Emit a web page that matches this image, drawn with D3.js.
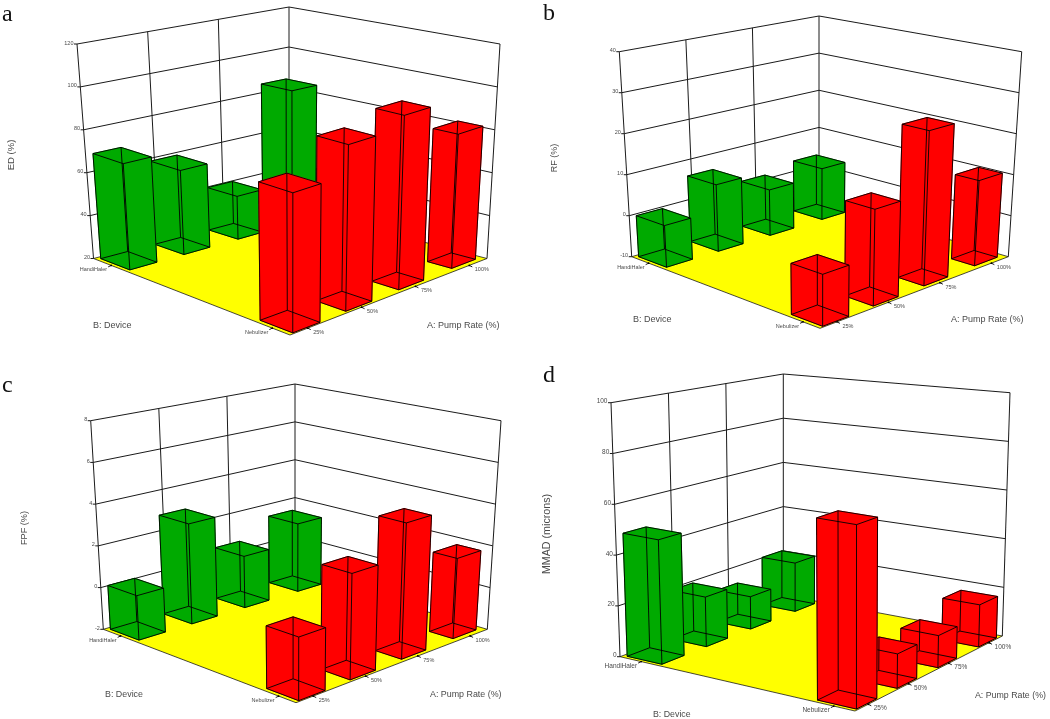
<!DOCTYPE html>
<html>
<head>
<meta charset="utf-8">
<script src="https://cdnjs.cloudflare.com/ajax/libs/d3/7.8.5/d3.min.js"></script>
<style>
html,body{margin:0;padding:0;background:#fff;}
svg{display:block;}
text{font-family:"Liberation Sans",Arial,sans-serif;fill:#4a4a4a;}
.letter{font-family:"Liberation Serif",serif;fill:#111;font-size:24px;}
</style>
</head>
<body>
<svg id="c" width="1050" height="719"></svg>
<script>
// ---------- data ----------
const pumpLevels = ["25%", "50%", "75%", "100%"];
const deviceLevels = ["HandiHaler", "Nebulizer"];

const edTicks = [20, 40, 60, 80, 100, 120];
const edHandi = [69, 59.5, 40.5, 85];
const edNeb = [81, 94, 99, 82];

const rfTicks = [-10, 0, 10, 20, 30, 40];
const rfHandi = [0, 6.4, 1.5, 3.2];
const rfNeb = [1.5, 12, 26.3, 10.5];

const fpfTicks = [-2, 0, 2, 4, 6, 8];
const fpfHandi = [0.1, 2.85, 0.55, 1.45];
const fpfNeb = [0.8, 2.8, 4.3, 1.8];

const mmadTicks = [0, 20, 40, 60, 80, 100];
const mmadHandi = [48.5, 20, 13.5, 21];
const mmadNeb = [67.5, 13, 12.5, 17];

// ---------- panel layout (floor and ceiling corners: left, back, right, front) ----------
const panels = [
  { letter:"a", lx:2, ly:21, title:"ED (%)", ticks:edTicks, handi:edHandi, neb:edNeb, fs:5.5, tfs:9.5, afs:9, taper:0.022,
    titleX:14, titleY:155, bx:93, by:328, ax:427, ay:328,
    L:[93.5,258.5], K:[289,207], R:[487,258.5], F:[290,335],
    TL:[77,44], TK:[289,7], TR:[500,44], TF:[290,105] },
  { letter:"b", lx:543, ly:20, title:"RF (%)", ticks:rfTicks, handi:rfHandi, neb:rfNeb, fs:5.5, tfs:9, afs:9, taper:0.022,
    titleX:557, titleY:158, bx:633, by:322, ax:951, ay:322,
    L:[631.7,256.7], K:[819,201.7], R:[1008.3,256.7], F:[820,328.3],
    TL:[619.3,51.7], TK:[819,16], TR:[1021.7,51.7], TF:[820,101.7] },
  { letter:"c", lx:2, ly:392, title:"FPF (%)", ticks:fpfTicks, handi:fpfHandi, neb:fpfNeb, fs:5.5, tfs:9.2, afs:8.9, taper:0.022,
    titleX:27, titleY:528, bx:105, by:697, ax:430, ay:697,
    L:[103.3,629.3], K:[295,573.3], R:[487.3,629.3], F:[296,702.7],
    TL:[90.7,420.7], TK:[295,384], TR:[501,420.7], TF:[296,475] },
  { letter:"d", lx:543, ly:382, title:"MMAD (microns)", ticks:mmadTicks, handi:mmadHandi, neb:mmadNeb, fs:6.5, tfs:10.7, afs:8.8, taper:0,
    titleX:550, titleY:534, bx:653, by:717, ax:975, ay:698,
    L:[620,656.7], K:[783.3,595], R:[1002.3,636], F:[855,711],
    TL:[611,402.7], TK:[783.3,374], TR:[1010,392.7], TF:[855,437] }
];

const svg = d3.select("#c");
const defs = svg.append("defs");
defs.append("filter").attr("id","soft").attr("x","-5%").attr("y","-5%").attr("width","110%").attr("height","110%")
  .append("feGaussianBlur").attr("stdDeviation",0.55);

const root = svg.append("g").attr("filter","url(#soft)");
const line = d3.line();
const GREEN = "#00aa00", RED = "#ff0000", FLOOR = "#ffff00", INK = "#1a1a1a";

panels.forEach(p => {
  const g = root.append("g");
  const zScale = d3.scaleLinear().domain(d3.extent(p.ticks)).range([0,1]);
  const pumpScale = d3.scalePoint().domain(pumpLevels).range([0.09,0.91]);
  const devScale = d3.scalePoint().domain(deviceLevels).range([0.09,0.91]);
  const gridU = d3.scaleLinear().domain([0,3]).range([0,1]);
  const pumpRank = d3.scaleLinear().domain([0.09,0.91]).range([0,1]);

  // u: pump (0 = near left, 1 = far right), v: device (0 = HandiHaler, 1 = Nebulizer), w: height
  const bilerp = (A,B,C,D,u,v) => [0,1].map(i =>
      (1-u)*(1-v)*A[i] + u*(1-v)*B[i] + u*v*C[i] + (1-u)*v*D[i]);
  const P = (u,v,w) => {
    const a = bilerp(p.L,p.K,p.R,p.F,u,v);
    const b = bilerp(p.TL,p.TK,p.TR,p.TF,u,v);
    return [a[0]+(b[0]-a[0])*w, a[1]+(b[1]-a[1])*w];
  };

  // walls
  g.append("path").attr("d",line([P(0,0,0),P(1,0,0),P(1,0,1),P(0,0,1)])+"Z").attr("fill","#fff");
  g.append("path").attr("d",line([P(1,0,0),P(1,1,0),P(1,1,1),P(1,0,1)])+"Z").attr("fill","#fff");
  // floor
  g.append("path").attr("d",line([P(0,0,0),P(1,0,0),P(1,1,0),P(0,1,0)])+"Z")
    .attr("fill",FLOOR).attr("stroke",INK).attr("stroke-width",0.8);

  const grid = g.append("g").attr("fill","none").attr("stroke",INK).attr("stroke-width",1);
  p.ticks.forEach((t,i) => {
    const w = zScale(t);
    if (i>0) grid.append("path").attr("d",line([P(0,0,w),P(1,0,w),P(1,1,w)]));
    const a = P(0,0,w);
    grid.append("path").attr("d",line([[a[0]-3,a[1]],a]));
    g.append("text").attr("x",a[0]-3.5).attr("y",a[1]+0.5).attr("text-anchor","end")
      .attr("font-size",p.fs).text(t);
  });
  d3.range(4).forEach(i => {
    const u = gridU(i);
    grid.append("path").attr("d",line([P(u,0,0),P(u,0,1)]));
  });
  grid.append("path").attr("d",line([P(1,1,0),P(1,1,1)]));

  // bars, painted from the back to the front
  const bars = [];
  pumpLevels.forEach((lvl,i) => {
    bars.push({u:pumpScale(lvl),v:devScale(deviceLevels[0]),val:p.handi[i],col:GREEN});
    bars.push({u:pumpScale(lvl),v:devScale(deviceLevels[1]),val:p.neb[i],col:RED});
  });
  bars.sort((a,b)=>(b.u-b.v)-(a.u-a.v));
  bars.forEach(b => {
    const rank = pumpRank(b.u);
    const du = 0.069 - 0.009*rank;
    const dv = b.v > 0.5 ? 0.083 - p.taper*rank : 0.074;
    const u0=b.u-du,u1=b.u+du,v0=b.v-dv,v1=b.v+dv,h=zScale(b.val);
    const corners = w => [P(u0,v0,w),P(u1,v0,w),P(u1,v1,w),P(u0,v1,w)];
    const lo = corners(0), hi = corners(h);
    const bg = g.append("g");
    const faces = [[lo[0],lo[1],hi[1],hi[0]],[lo[1],lo[2],hi[2],hi[1]],lo,
                   [lo[0],lo[3],hi[3],hi[0]],[lo[3],lo[2],hi[2],hi[3]],hi];
    faces.forEach(f => bg.append("path").attr("d",line(f)+"Z").attr("fill",b.col).attr("stroke",b.col).attr("stroke-width",0.5));
    // every edge of the box is visible, as in a wireframe
    const edges = bg.append("g").attr("fill","none").attr("stroke","#000").attr("stroke-width",0.9);
    d3.range(4).forEach(i => {
      const j=(i+1)%4;
      edges.append("path").attr("d",line([lo[i],lo[j]]));
      edges.append("path").attr("d",line([hi[i],hi[j]]));
      edges.append("path").attr("d",line([lo[i],hi[i]]));
    });
  });

  // floor axis ticks
  pumpLevels.forEach(lvl => {
    const a = P(pumpScale(lvl),1,0);
    g.append("path").attr("d",line([a,[a[0]+3,a[1]+1.5]])).attr("stroke",INK).attr("stroke-width",1);
    g.append("circle").attr("cx",a[0]).attr("cy",a[1]).attr("r",0.9).attr("fill","#000");
    g.append("text").attr("x",a[0]+5.5).attr("y",a[1]+6).attr("font-size",p.fs).text(lvl);
  });
  deviceLevels.forEach(lvl => {
    const a = P(0,devScale(lvl),0);
    g.append("path").attr("d",line([a,[a[0]-3,a[1]+1.5]])).attr("stroke",INK).attr("stroke-width",1);
    g.append("circle").attr("cx",a[0]).attr("cy",a[1]).attr("r",0.9).attr("fill","#000");
    g.append("text").attr("x",a[0]-4).attr("y",a[1]+6).attr("text-anchor","end").attr("font-size",p.fs).text(lvl);
  });

  // titles
  g.append("text").attr("transform",`translate(${p.titleX},${p.titleY}) rotate(-90)`)
    .attr("text-anchor","middle").attr("font-size",p.tfs).text(p.title);
  g.append("text").attr("x",p.bx).attr("y",p.by).attr("font-size",p.afs).text("B: Device");
  g.append("text").attr("x",p.ax).attr("y",p.ay).attr("font-size",p.afs).text("A: Pump Rate (%)");

  svg.append("text").attr("class","letter").attr("x",p.lx).attr("y",p.ly).text(p.letter);
});
</script>
</body>
</html>
